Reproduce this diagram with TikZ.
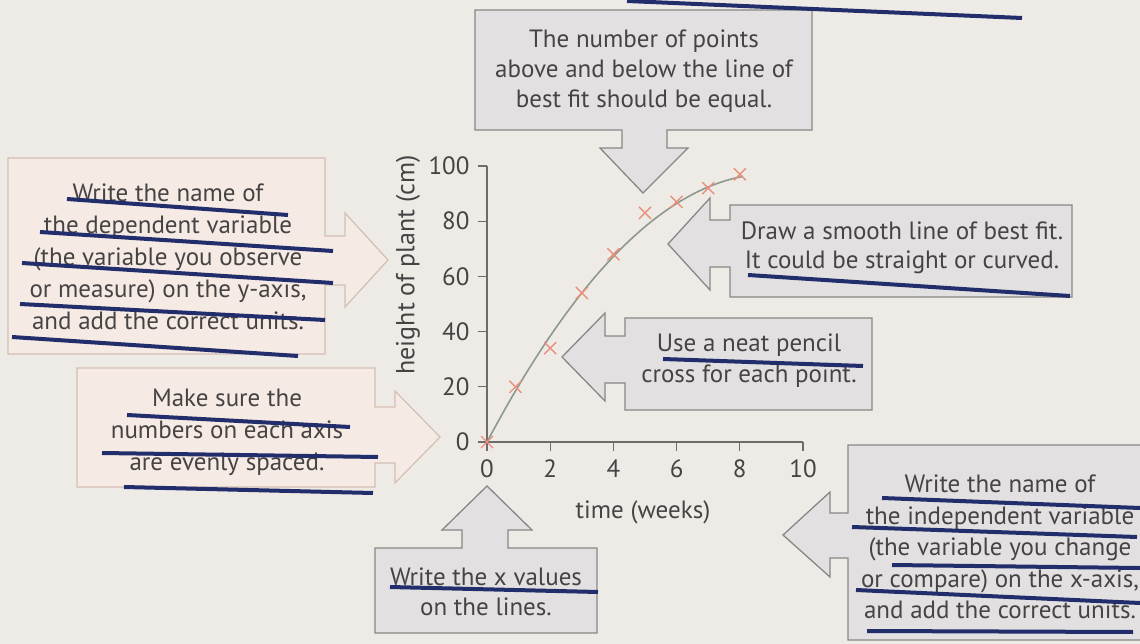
\documentclass[tikz,border=0pt]{standalone}
\usepackage{fontspec}
\setmainfont{PT Sans}
\definecolor{paper}{HTML}{EEEBE7}
\definecolor{pinkfill}{HTML}{F6EAE4}
\definecolor{pinkedge}{HTML}{D3BFB4}
\definecolor{grayfill}{HTML}{E2E0E1}
\definecolor{grayedge}{HTML}{8A8686}
\definecolor{ink}{HTML}{454343}
\definecolor{navy}{HTML}{222E6C}
\definecolor{axisgray}{HTML}{6E6C6B}
\definecolor{fitline}{HTML}{8C998B}
\definecolor{crossred}{HTML}{E8907B}
\begin{document}
\begin{tikzpicture}[x=1pt,y=-1pt,
    pinkbox/.style={fill=pinkfill,draw=pinkedge,line width=1.2pt,line join=miter},
    graybox/.style={fill=grayfill,draw=grayedge,line width=1.3pt,line join=miter},
    notetext/.style={text=ink,align=center,inner sep=0pt,font=\fontsize{25}{32}\selectfont},
    numtext/.style={text=ink,inner sep=0pt,font=\fontsize{25}{28}\selectfont},
    navyline/.style={draw=navy,line width=4pt},
    axisline/.style={draw=axisgray,line width=1.3pt}]

    \fill[paper] (0,0) rectangle (1140,644);
    \useasboundingbox (0,0) rectangle (1140,644);

    % callout shapes
    \draw[pinkbox] (8,158) -- (325,158) -- (325,236) -- (345,236) -- (345,213) -- (388,260)
        -- (345,307) -- (345,285) -- (325,285) -- (325,354) -- (8,354) -- cycle;
    \draw[pinkbox] (77,368) -- (375,368) -- (375,407) -- (395,407) -- (395,391) -- (440,437)
        -- (395,483) -- (395,463) -- (375,463) -- (375,487) -- (77,487) -- cycle;
    \draw[graybox] (475,10) -- (812,10) -- (812,130) -- (667,130) -- (667,148) -- (688,148)
        -- (643,193) -- (600,148) -- (622,148) -- (622,130) -- (475,130) -- cycle;
    \draw[graybox] (1072,205) -- (730,205) -- (730,220) -- (710,220) -- (710,198) -- (668,244)
        -- (710,290) -- (710,267) -- (730,267) -- (730,297) -- (1072,297) -- cycle;
    \draw[graybox] (872,318) -- (625,318) -- (625,336) -- (605,336) -- (605,313) -- (562,357)
        -- (605,401) -- (605,383) -- (625,383) -- (625,410) -- (872,410) -- cycle;
    \draw[graybox] (375,548) -- (462,548) -- (462,530) -- (442,530) -- (487,486) -- (532,530)
        -- (508,530) -- (508,548) -- (597,548) -- (597,633) -- (375,633) -- cycle;
    \draw[graybox] (1150,445) -- (848,445) -- (848,513) -- (830,513) -- (830,492) -- (783,535)
        -- (830,577) -- (830,558) -- (848,558) -- (848,640) -- (1150,640) -- cycle;

    \node[notetext] (depnote) at (168,257) {Write the name of\\the dependent variable\\(the variable you observe\\or measure) on the y-axis,\\and add the correct units.};
    \node[notetext] (evennote) at (227,432) {Make sure the\\numbers on each axis\\are evenly spaced.};
    \node[notetext,font=\fontsize{25}{30}\selectfont] (equalnote) at (644,71) {The number of points\\above and below the line of\\best fit should be equal.};
    \node[notetext,font=\fontsize{25}{29}\selectfont] (smoothnote) at (902,248) {Draw a smooth line of best fit.\\It could be straight or curved.};
    \node[notetext,font=\fontsize{25}{31}\selectfont] (crossnote) at (749,361) {Use a neat pencil\\cross for each point.};
    \node[notetext,font=\fontsize{25}{30}\selectfont] (xvalnote) at (486,592) {Write the x values\\on the lines.};
    \node[notetext,font=\fontsize{25}{31.5}\selectfont] (indepnote) at (1000,547) {Write the name of\\the independent variable\\(the variable you change\\or compare) on the x-axis,\\and add the correct units.};

    % graph
    \begin{scope}[shift={(487pt,-442pt)},x=31.6pt,y=2.76pt]
        \draw[axisline] (0,100) -- (0,0) -- (10,0);
        \foreach \y in {0,20,...,100} {
            \draw[axisline] (0,\y) -- (-0.3,\y);
            \node[numtext,anchor=east] (ylab\y) at (-0.55,\y) {\y};
        }
        \foreach \x in {0,2,...,10} {
            \draw[axisline] (\x,0) -- (\x,-3.2);
            \node[numtext,anchor=north] (xlab\x) at (\x,-6.5) {\x};
        }
        \draw[fitline, line width=1.6pt] plot[domain=0:8.1, smooth, samples=40] (\x, {1.2*(18*\x-\x*\x)});
        \foreach \px/\py in {0/0, 0.9/20, 2/34, 3/54, 4/68, 5/83, 6/87, 7/92, 8/97} {
            \draw[crossred, line width=1.4pt] (\px,\py) +(-6pt,-6pt) -- +(6pt,6pt)
                (\px,\py) +(-6pt,6pt) -- +(6pt,-6pt);
        }
    \end{scope}
    \node[numtext,rotate=90,font=\fontsize{26}{28}\selectfont] (ytitle) at (408,265) {height of plant (cm)};
    \node[numtext] (xtitle) at (643,512) {time (weeks)};

    % pen marks
    \draw[navyline] (627,1) -- (1022,18);
    \draw[navyline] (67,199) -- (288,215);
    \draw[navyline] (40,232) -- (333,251);
    \draw[navyline] (22,263) -- (333,283);
    \draw[navyline] (20,304) -- (325,320);
    \draw[navyline] (12,337) -- (298,356);
    \draw[navyline] (127,415) -- (350,427);
    \draw[navyline] (102,453) -- (378,457);
    \draw[navyline] (124,487) -- (373,493);
    \draw[navyline] (748,275) -- (1070,296);
    \draw[navyline] (663,359) -- (863,366);
    \draw[navyline] (390,587) -- (598,592);
    \draw[navyline] (882,498) -- (1140,508);
    \draw[navyline] (852,527) -- (1137,537);
    \draw[navyline] (892,565) -- (1140,568);
    \draw[navyline] (856,590) -- (1140,603);
    \draw[navyline] (867,631) -- (1133,632);
\end{tikzpicture}
\end{document}
